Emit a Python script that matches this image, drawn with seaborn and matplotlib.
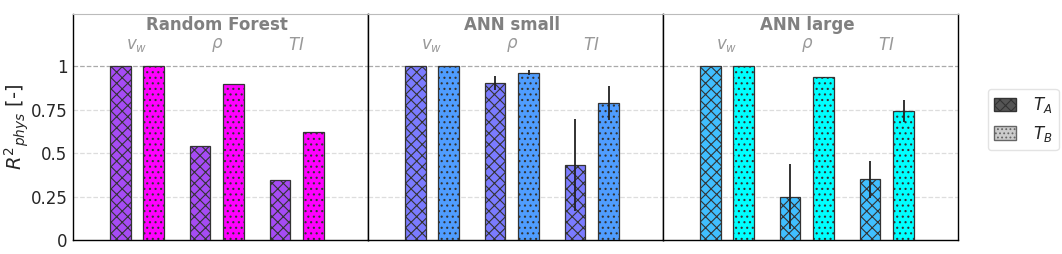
import numpy as np
import pandas as pd
import matplotlib
matplotlib.use("Agg")
import matplotlib.pyplot as plt
from matplotlib.patches import Patch
import seaborn as sns

# ---- data ----
models = ["Random Forest", "ANN small", "ANN large"]
variables = ["$v_w$", r"$\rho$", "$TI$"]
temps = ["$T_A$", "$T_B$"]

rf_TA = [1.0, 0.543, 0.347]
rf_TB = [1.0, 0.896, 0.621]
rf_TA_err = [0.0, 0.0, 0.0]
rf_TB_err = [0.0, 0.0, 0.0]

small_TA = [1.0, 0.902, 0.432]
small_TB = [1.0, 0.962, 0.787]
small_TA_err = [0.0, 0.04, 0.265]
small_TB_err = [0.0, 0.014, 0.098]

large_TA = [1.0, 0.250, 0.349]
large_TB = [1.0, 0.935, 0.742]
large_TA_err = [0.0, 0.185, 0.105]
large_TB_err = [0.0, 0.004, 0.064]

palettes = [["#a64bf4", "#ff00ff"],
            ["#7b7bff", "#4f9dff"],
            ["#40bfff", "#00ffff"]]

values = [(rf_TA, rf_TB, rf_TA_err, rf_TB_err),
          (small_TA, small_TB, small_TA_err, small_TB_err),
          (large_TA, large_TB, large_TA_err, large_TB_err)]

rows = []
for m, (a, b, ea, eb) in zip(models, values):
    for i, v in enumerate(variables):
        rows.append(dict(model=m, variable=v, temp=temps[0], value=a[i], err=ea[i]))
        rows.append(dict(model=m, variable=v, temp=temps[1], value=b[i], err=eb[i]))
df = pd.DataFrame(rows)

sns.set_style("white")
plt.rcParams["font.family"] = ["DejaVu Sans"]
plt.rcParams["hatch.linewidth"] = 0.8

fig, axes = plt.subplots(1, 3, figsize=(10.62, 2.54), dpi=100, sharey=True)
fig.subplots_adjust(left=0.0687, right=0.902, bottom=0.055, top=0.945, wspace=0)

hatches = {temps[0]: "xxx", temps[1]: "..."}

for k, (ax, m) in enumerate(zip(axes, models)):
    sub = df[df.model == m]
    sns.barplot(data=sub, x="variable", y="value", hue="temp", order=variables,
                hue_order=temps, palette=palettes[k], width=0.84, gap=0.38,
                saturation=1, edgecolor="#333333", linewidth=0.9, errorbar=None,
                ax=ax, legend=False, zorder=3)
    bars = [p for p in ax.patches]
    for j, t in enumerate(temps):
        tsub = sub[sub.temp == t].set_index("variable").loc[variables]
        hb = bars[j * len(variables):(j + 1) * len(variables)]
        xs = []
        for p in hb:
            p.set_hatch(hatches[t])
            xs.append(p.get_x() + p.get_width() / 2)
        errs = tsub["err"].values
        mask = errs > 0
        ax.errorbar(np.array(xs)[mask], tsub["value"].values[mask], yerr=errs[mask],
                    fmt="none", ecolor="#222222", elinewidth=1.3, capsize=0, zorder=4)
    ax.set_xlim(-0.8, 2.89)
    ax.set_ylim(0, 1.3)
    ax.set_xlabel("")
    ax.set_xticks([])
    ax.set_yticks([0, 0.25, 0.5, 0.75, 1])
    ax.set_yticklabels(["0", "0.25", "0.5", "0.75", "1"], fontsize=12)
    ax.tick_params(axis="y", length=0, pad=4)
    for yv in [0.25, 0.5, 0.75]:
        ax.axhline(yv, color="#dddddd", linestyle="--", linewidth=0.9, zorder=0)
    ax.axhline(1.0, color="#aaaaaa", linestyle="--", linewidth=0.9, zorder=0)
    ax.text(1, 1.235, m, ha="center", va="center", fontsize=12, fontweight="bold",
            color="#808080")
    for i, v in enumerate(variables):
        ax.text(i, 1.12, v, ha="center", va="center", fontsize=12, color="#999999")
    for s in ["left", "right", "bottom"]:
        ax.spines[s].set_color("black")
        ax.spines[s].set_linewidth(1.0)
    ax.spines["top"].set_color("#bbbbbb")
    ax.set_ylabel("")

axes[0].set_ylabel("$R^2{}_{phys}$ [-]", fontsize=14)
axes[0].yaxis.set_label_coords(-0.142, 0.5)

handles = [Patch(facecolor="#555555", edgecolor="#333333", hatch="xxx"),
           Patch(facecolor="#cccccc", edgecolor="#666666", hatch="....")]
fig.legend(handles, temps, loc="center left", bbox_to_anchor=(0.930, 0.53),
           borderaxespad=0, fontsize=12, handlelength=1.3, handleheight=0.9,
           handletextpad=1.0, labelspacing=0.5, borderpad=0.4, frameon=True,
           edgecolor="#dddddd")

fig.savefig("out.png", dpi=100)
